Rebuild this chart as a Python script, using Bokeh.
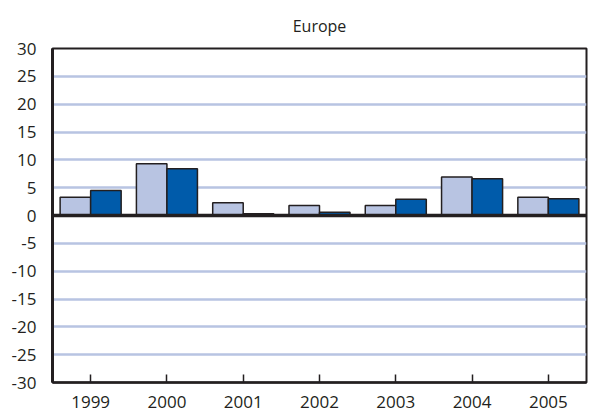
from bokeh.plotting import figure
from bokeh.models import FactorRange, FixedTicker, Span, ColumnDataSource
from bokeh.transform import dodge
from bokeh.embed import file_html
from bokeh.resources import INLINE

years = ["1999", "2000", "2001", "2002", "2003", "2004", "2005"]
series_a = [3.3, 9.3, 2.3, 1.8, 1.8, 6.9, 3.3]
series_b = [4.5, 8.4, 0.3, 0.6, 2.9, 6.6, 3.0]
y_ticks = [-30, -25, -20, -15, -10, -5, 0, 5, 10, 15, 20, 25, 30]
title_text = "Europe"

FONT = "Open Sans"
DARK = "#231F20"
LIGHT = "#B8C4E2"
BLUE = "#005BAA"

src = ColumnDataSource(dict(year=years, a=series_a, b=series_b))

p = figure(width=589, height=415, x_range=FactorRange(*years, range_padding=0),
           y_range=(-30, 30), output_backend="svg", toolbar_location=None,
           title=title_text, min_border_left=52, min_border_right=3,
           min_border_top=48, min_border_bottom=33)

p.title.align = "center"
p.title.text_font = FONT
p.title.text_font_style = "normal"
p.title.text_font_size = "16px"
p.title.text_color = DARK
p.title.standoff = 23

p.vbar(x=dodge("year", -0.2, range=p.x_range), top="a", bottom=0, width=0.4,
       source=src, fill_color=LIGHT, line_color=DARK, line_width=1.5)
p.vbar(x=dodge("year", 0.2, range=p.x_range), top="b", bottom=0, width=0.4,
       source=src, fill_color=BLUE, line_color=DARK, line_width=1.5)

p.add_layout(Span(location=0, dimension="width", line_color=DARK, line_width=3.5))

p.xgrid.grid_line_color = None
p.ygrid.ticker = FixedTicker(ticks=[t for t in y_ticks if t not in (0, -30, 30)])
p.ygrid.grid_line_color = LIGHT
p.ygrid.grid_line_width = 2.5
p.ygrid.level = "underlay"

p.outline_line_color = DARK
p.outline_line_width = 2
p.outline_line_alpha = 1

p.yaxis.ticker = FixedTicker(ticks=y_ticks)
p.yaxis.major_label_overrides = {t: str(t) for t in y_ticks}
p.yaxis.major_tick_in = 0
p.yaxis.major_tick_out = 0
p.yaxis.minor_tick_in = 0
p.yaxis.minor_tick_out = 0
p.yaxis.axis_line_color = DARK
p.yaxis.axis_line_width = 3
p.yaxis.major_label_standoff = 16
p.yaxis.major_label_text_font = FONT
p.yaxis.major_label_text_font_size = "17px"
p.yaxis.major_label_text_color = DARK

p.xaxis.major_tick_in = 8
p.xaxis.major_tick_out = 0
p.xaxis.major_tick_line_color = DARK
p.xaxis.major_tick_line_width = 1.5
p.xaxis.axis_line_color = DARK
p.xaxis.axis_line_width = 2.5
p.xaxis.major_label_standoff = 13
p.xaxis.major_label_text_font = FONT
p.xaxis.major_label_text_font_size = "17px"
p.xaxis.major_label_text_color = DARK

open("out.html", "w").write(file_html(p, INLINE))
